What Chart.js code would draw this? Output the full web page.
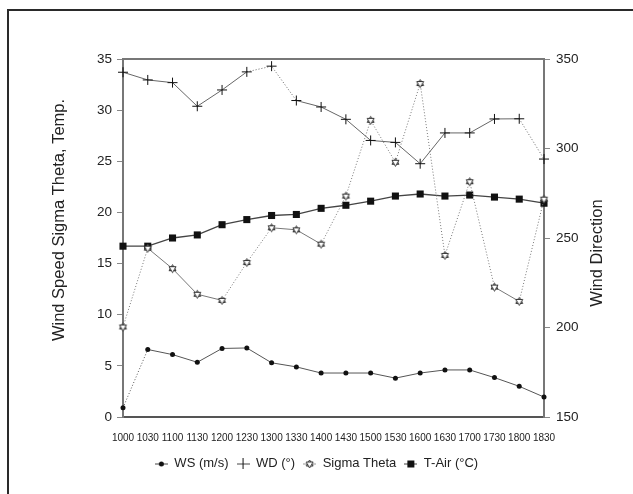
<!DOCTYPE html>
<html>
<head>
<meta charset="utf-8">
<script src="https://cdn.jsdelivr.net/npm/chart.js@4/dist/chart.umd.min.js"></script>
<style>
  html, body { margin: 0; padding: 0; background: #fff; }
  #wrap { position: relative; width: 633px; height: 494px; overflow: hidden; }
  #frame { position: absolute; left: 7px; top: 9px; width: 640px; height: 500px;
           border-left: 2px solid #2a2a2a; border-top: 2px solid #2a2a2a; }
  canvas { position: absolute; left: 0; top: 0; }
</style>
</head>
<body>
<div id="wrap">
  <div id="frame"></div>
  <canvas id="chart" width="633" height="494"></canvas>
</div>
<script>
// Values
const times = ['1000', '1030', '1100', '1130', '1200', '1230', '1300', '1330', '1400',
               '1430', '1500', '1530', '1600', '1630', '1700', '1730', '1800', '1830'];
const windSpeed = [0.9, 6.6, 6.1, 5.35, 6.7, 6.75, 5.3, 4.9, 4.3, 4.3, 4.3, 3.8, 4.3, 4.6, 4.6, 3.85, 3.0, 1.95];
const windDir = [342.6, 338.3, 336.8, 323.6, 332.7, 342.8, 346, 326.8, 323.2, 316.3, 304.5, 303.4, 291.5, 308.7, 308.7, 316.5, 316.6, 294.1];
const sigmaTheta = [8.8, 16.5, 14.5, 12.0, 11.4, 15.1, 18.5, 18.3, 16.9, 21.6, 29.0, 24.9, 32.6, 15.8, 23.0, 12.7, 11.3, 21.3];
const tAir = [16.7, 16.7, 17.5, 17.8, 18.8, 19.3, 19.7, 19.8, 20.4, 20.7, 21.1, 21.6, 21.8, 21.6, 21.7, 21.5, 21.3, 20.9];

const leftTicks = { min: 0, max: 35, step: 5 };
const rightTicks = { min: 150, max: 350, step: 50 };

const FONT = '"Liberation Sans", Arial, Helvetica, sans-serif';

// small marker images
function icon(w, h, draw) {
  const c = document.createElement('canvas');
  c.width = w; c.height = h;
  draw(c.getContext('2d'), w, h);
  return c;
}
function star(g, cx, cy, r) {
  g.strokeStyle = '#333';
  g.lineWidth = 1;
  g.fillStyle = '#fff';
  for (let k = 0; k < 2; k++) {
    g.beginPath();
    for (let i = 0; i < 3; i++) {
      const a = -Math.PI / 2 + k * Math.PI + i * 2 * Math.PI / 3;
      const px = cx + r * Math.cos(a), py = cy + r * Math.sin(a);
      if (i === 0) g.moveTo(px, py); else g.lineTo(px, py);
    }
    g.closePath();
    g.fill();
    g.stroke();
  }
}
const starMark = icon(11, 11, (g) => star(g, 5.5, 5.5, 4));

function legendLine(g, w, h, color) {
  g.strokeStyle = color; g.lineWidth = 1;
  g.beginPath(); g.moveTo(0, h / 2 + 0.5); g.lineTo(w, h / 2 + 0.5); g.stroke();
}
const legendIcons = [
  icon(13, 11, (g, w, h) => {
    legendLine(g, w, h, '#444');
    g.fillStyle = '#111'; g.beginPath(); g.arc(w / 2, h / 2 + 0.5, 2.5, 0, Math.PI * 2); g.fill();
  }),
  icon(13, 11, (g, w, h) => {
    legendLine(g, w, h, '#444');
    g.strokeStyle = '#111'; g.beginPath(); g.moveTo(w / 2, 0); g.lineTo(w / 2, h); g.stroke();
  }),
  icon(13, 11, (g, w, h) => {
    legendLine(g, w, h, '#999');
    star(g, w / 2, h / 2 + 0.5, 4);
  }),
  icon(13, 11, (g, w, h) => {
    legendLine(g, w, h, '#444');
    g.fillStyle = '#111'; g.fillRect(w / 2 - 3.5, h / 2 - 3, 7, 7);
  })
];

// dotted pieces seen in the scan
const dotted = (set) => (ctx) => set.includes(ctx.p0DataIndex) ? [1, 2] : undefined;
const solid = (set) => (ctx) => set.includes(ctx.p0DataIndex) ? [] : undefined;

const axisTitles = {
  id: 'axisTitles',
  afterDraw(chart) {
    const { ctx, chartArea: a } = chart;
    ctx.save();
    ctx.strokeStyle = '#777';
    ctx.lineWidth = 2;
    ctx.beginPath();
    ctx.moveTo(a.left - 1, a.top);
    ctx.lineTo(a.right + 1, a.top);
    ctx.stroke();

    ctx.fillStyle = '#222';
    ctx.font = '16.5px ' + FONT;
    ctx.textAlign = 'center';
    ctx.textBaseline = 'middle';
    ctx.save();
    ctx.translate(a.left - 64, a.top + 161);
    ctx.rotate(-Math.PI / 2);
    ctx.fillText('Wind Speed Sigma Theta, Temp.', 0, 0);
    ctx.restore();
    ctx.save();
    ctx.translate(a.right + 53, a.top + 194);
    ctx.rotate(-Math.PI / 2);
    ctx.fillText('Wind Direction', 0, 0);
    ctx.restore();
    ctx.restore();
  }
};

const chart = new Chart(document.getElementById('chart'), {
  type: 'line',
  data: {
    labels: times,
    datasets: [{
      label: 'WS (m/s)',
      data: windSpeed,
      yAxisID: 'y',
      borderColor: '#555',
      borderWidth: 1,
      pointStyle: 'circle',
      pointRadius: 2.5,
      pointBackgroundColor: '#111',
      pointBorderColor: '#111',
      pointBorderWidth: 0,
      segment: { borderDash: dotted([0]) }
    }, {
      label: 'WD (°)',
      data: windDir,
      yAxisID: 'y1',
      borderColor: '#666',
      borderWidth: 1,
      pointStyle: 'cross',
      pointRadius: 5,
      pointBorderColor: '#111',
      pointBorderWidth: 1,
      segment: { borderDash: dotted([5, 6, 16]) }
    }, {
      label: 'Sigma Theta',
      data: sigmaTheta,
      yAxisID: 'y',
      borderColor: '#777',
      borderWidth: 1,
      borderDash: [1, 2],
      pointStyle: starMark,
      pointRadius: 4,
      segment: { borderDash: solid([1, 2, 3, 6, 7, 15]) }
    }, {
      label: 'T-Air (°C)',
      data: tAir,
      yAxisID: 'y',
      borderColor: '#444',
      borderWidth: 1.3,
      pointStyle: 'rect',
      pointRadius: 5,
      pointBackgroundColor: '#111',
      pointBorderColor: '#111',
      pointBorderWidth: 0
    }]
  },
  options: {
    responsive: false,
    animation: false,
    elements: { line: { tension: 0, fill: false } },
    layout: { padding: { top: 59, bottom: 14, left: 0, right: 0 } },
    plugins: {
      tooltip: { enabled: false },
      legend: {
        position: 'bottom',
        labels: {
          usePointStyle: true,
          pointStyleWidth: 13,
          padding: 8,
          color: '#222',
          font: { family: FONT, size: 13 },
          generateLabels(c) {
            const items = Chart.defaults.plugins.legend.labels.generateLabels(c);
            items.forEach((it, i) => { it.pointStyle = legendIcons[i]; it.lineDash = []; });
            return items;
          }
        }
      }
    },
    scales: {
      x: {
        offset: false,
        afterFit(s) { s.height = 32; },
        grid: { display: false },
        border: { display: true, color: '#555', width: 2 },
        ticks: {
          autoSkip: false, maxRotation: 0, minRotation: 0, padding: 7,
          color: '#222', font: { family: FONT, size: 10 }
        }
      },
      y: {
        position: 'left',
        min: leftTicks.min, max: leftTicks.max,
        afterFit(s) { s.width = 123; },
        grid: { display: true, drawOnChartArea: false, drawTicks: true, tickLength: 6, color: '#888' },
        border: { display: true, color: '#777', width: 2 },
        ticks: { stepSize: leftTicks.step, padding: 5, color: '#222', font: { family: FONT, size: 13.5 } }
      },
      y1: {
        position: 'right',
        min: rightTicks.min, max: rightTicks.max,
        afterFit(s) { s.width = 89; },
        grid: { display: true, drawOnChartArea: false, drawTicks: true, tickLength: 6, color: '#888' },
        border: { display: true, color: '#777', width: 2 },
        ticks: { stepSize: rightTicks.step, padding: 6, color: '#222', font: { family: FONT, size: 13.5 } }
      }
    }
  },
  plugins: [axisTitles]
});
</script>
</body>
</html>
